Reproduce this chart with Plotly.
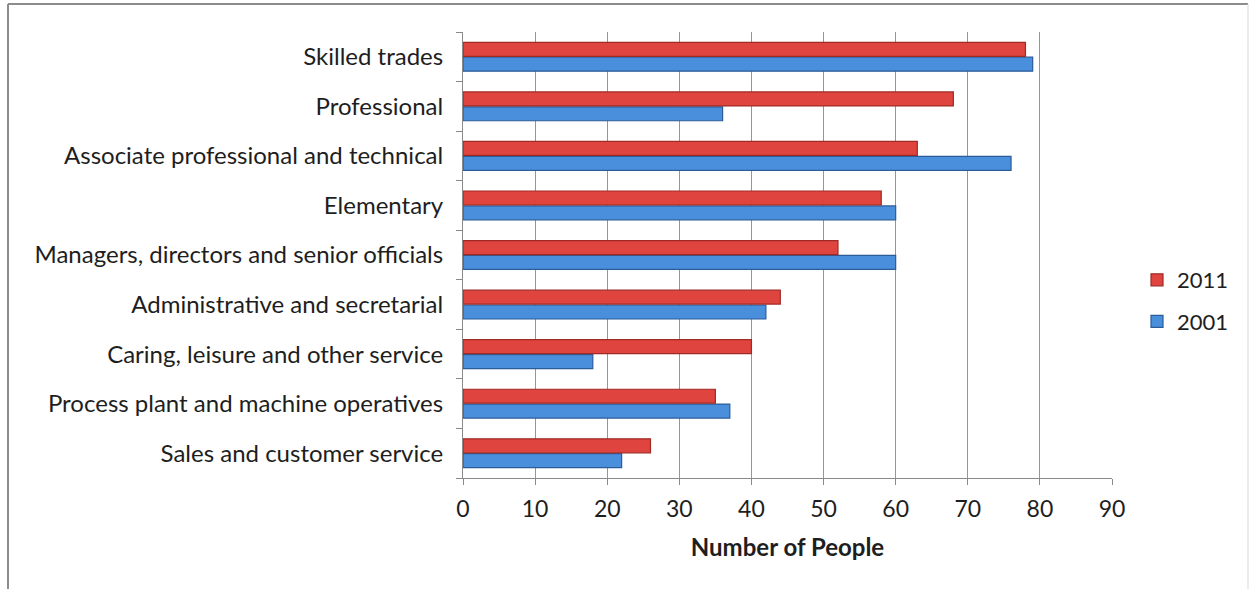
import plotly.graph_objects as go

# Data (top-to-bottom order as shown)
categories = [
    "Skilled trades",
    "Professional",
    "Associate professional and technical",
    "Elementary",
    "Managers, directors and senior officials",
    "Administrative and secretarial",
    "Caring, leisure and other service",
    "Process plant and machine operatives",
    "Sales and customer service",
]
values_2011 = [78, 68, 63, 58, 52, 44, 40, 35, 26]
values_2001 = [79, 36, 76, 60, 60, 42, 18, 37, 22]
x_ticks = [0, 10, 20, 30, 40, 50, 60, 70, 80, 90]

cats = categories[::-1]
v2011 = values_2011[::-1]
v2001 = values_2001[::-1]

FONT = "Lato"

fig = go.Figure()
fig.add_trace(go.Bar(
    y=cats, x=v2001, orientation="h", name="2001", legendgroup="b", legendrank=2,
    marker=dict(color="#4A8FDB", line=dict(color="#2B5C98", width=1.2)),
))
fig.add_trace(go.Bar(
    y=cats, x=v2011, orientation="h", name="2011", legendgroup="a", legendrank=1,
    marker=dict(color="#E0443E", line=dict(color="#A02A26", width=1.2)),
))

ml, mr, mt, mb = 463, 138, 32, 111
W, H = 1250, 589
pw, ph = W - ml - mr, H - mt - mb

def px_x(x):
    return (x - ml) / pw

def px_y(y):
    return (H - mb - y) / ph

fig.update_layout(
    width=W, height=H,
    margin=dict(l=ml, r=mr, t=mt, b=mb),
    paper_bgcolor="white", plot_bgcolor="white",
    barmode="group", bargap=0.40, bargroupgap=0.06,
    font=dict(family=FONT, size=22, color="#1E1E1E"),
    showlegend=True,
    legend=dict(
        traceorder="grouped",
        x=px_x(1137), y=px_y(259), xanchor="left", yanchor="top",
        font=dict(family=FONT, size=22, color="#1E1E1E"),
        itemwidth=30, tracegroupgap=10,
        bgcolor="rgba(0,0,0,0)",
    ),
    xaxis=dict(
        range=[0, 90], tickvals=x_ticks, ticktext=[str(t) for t in x_ticks],
        showgrid=True, gridcolor="#969696", gridwidth=1,
        showline=True, linecolor="#8A8A8A", linewidth=1,
        ticks="outside", ticklen=6, tickcolor="#8A8A8A",
        ticklabelstandoff=4,
        tickfont=dict(family=FONT, size=23, color="#1E1E1E"),
        title=dict(text="<b>Number of People</b>", standoff=18,
                   font=dict(family=FONT, size=24, color="#1E1E1E")),
        zeroline=False,
    ),
    yaxis=dict(
        type="category", categoryorder="array", categoryarray=cats,
        showline=True, linecolor="#8A8A8A", linewidth=1,
        ticks="outside", ticklen=6, tickcolor="#8A8A8A",
        tickson="boundaries",
        ticklabelstandoff=14,
        tickfont=dict(family=FONT, size=24, color="#1E1E1E"),
        showgrid=False,
    ),
    shapes=[
        dict(type="line", xref="paper", yref="paper",
             x0=px_x(8), x1=px_x(8), y0=px_y(4), y1=px_y(600),
             line=dict(color="#8C8C8C", width=2)),
        dict(type="line", xref="paper", yref="paper",
             x0=px_x(8), x1=px_x(1248), y0=px_y(4), y1=px_y(4),
             line=dict(color="#8C8C8C", width=2)),
        dict(type="line", xref="paper", yref="paper",
             x0=px_x(1248), x1=px_x(1248), y0=px_y(4), y1=px_y(600),
             line=dict(color="#D8D8D8", width=1)),
    ],
)

fig.write_html("out.html")
